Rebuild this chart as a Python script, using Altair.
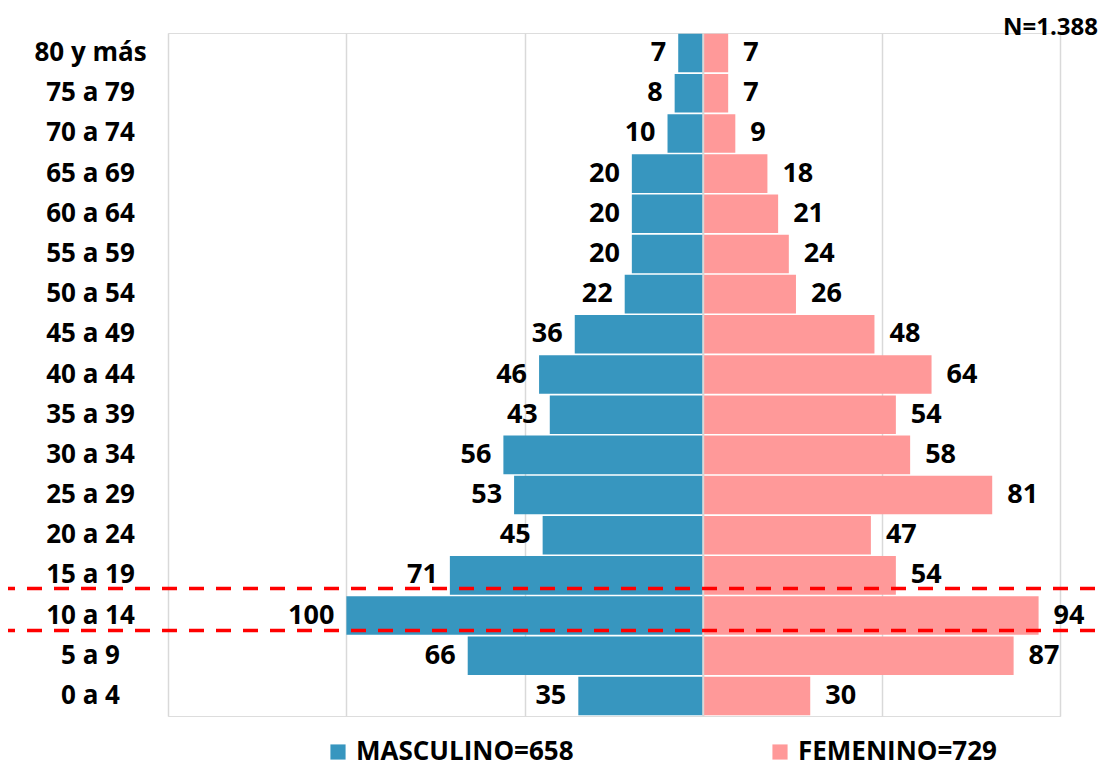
import altair as alt
import pandas as pd

groups = ["80 y más", "75 a 79", "70 a 74", "65 a 69", "60 a 64", "55 a 59", "50 a 54",
          "45 a 49", "40 a 44", "35 a 39", "30 a 34", "25 a 29", "20 a 24", "15 a 19",
          "10 a 14", "5 a 9", "0 a 4"]
male = [7, 8, 10, 20, 20, 20, 22, 36, 46, 43, 56, 53, 45, 71, 100, 66, 35]
female = [7, 7, 9, 18, 21, 24, 26, 48, 64, 54, 58, 81, 47, 54, 94, 87, 30]
series = ["MASCULINO=658", "FEMENINO=729"]
colors = ["#3796bf", "#ff9999"]
highlight = ["10 a 14"]
total_label = ["N=1.388"]

rows = []
for g, m, f in zip(groups, male, female):
    rows.append({"grupo": g, "sexo": series[0], "v": -m, "lab": str(m)})
    rows.append({"grupo": g, "sexo": series[1], "v": f, "lab": str(f)})
df = pd.DataFrame(rows)

FONT = "Open Sans"
W, H = 892, 683

yenc = alt.Y("grupo:N", sort=groups,
             scale=alt.Scale(paddingInner=0.04, paddingOuter=0.02),
             axis=alt.Axis(title=None, domain=False, ticks=False, grid=False,
                           labelFont=FONT, labelFontSize=26, labelFontWeight="bold",
                           labelColor="#000000", labelAlign="center", labelPadding=78))
xenc = alt.X("v:Q", scale=alt.Scale(domain=[-150, 100], nice=False, zero=False),
             axis=alt.Axis(title=None, domain=False, ticks=False, labels=False,
                           grid=True, gridColor="#d9d9d9", gridWidth=1.5,
                           values=[-150, -100, -50, 0, 50, 100]))

base = alt.Chart(df)

bars = base.mark_bar().encode(
    x=xenc, x2=alt.datum(0), y=yenc,
    color=alt.Color("sexo:N", scale=alt.Scale(domain=series, range=colors),
                    legend=alt.Legend(title=None, orient="none", direction="horizontal",
                                      legendX=157, legendY=706, symbolType="square",
                                      symbolSize=230, symbolStrokeWidth=0,
                                      labelFont=FONT, labelFontSize=26,
                                      labelFontWeight="bold", labelColor="#000000",
                                      labelOffset=5, columnPadding=193,
                                      labelLimit=400)),
)

center = alt.Chart(pd.DataFrame({"z": [0]})).mark_rule(color="#d9d9d9", strokeWidth=2).encode(
    x=alt.X("z:Q")
)

txt_m = base.transform_filter(alt.datum.sexo == series[0]).mark_text(
    align="right", baseline="middle", dx=-12, font=FONT, fontSize=27,
    fontWeight="bold", color="#000000").encode(x="v:Q", y=alt.Y("grupo:N", sort=groups), text="lab:N")
txt_f = base.transform_filter(alt.datum.sexo == series[1]).mark_text(
    align="left", baseline="middle", dx=15, font=FONT, fontSize=27,
    fontWeight="bold", color="#000000").encode(x="v:Q", y=alt.Y("grupo:N", sort=groups), text="lab:N")

hl = pd.DataFrame({"grupo": highlight * 2})
rule_top = alt.Chart(hl.iloc[[0]]).mark_rule(color="#ff0000", strokeWidth=3.5,
                                             strokeDash=[15, 12], yOffset=-27).encode(
    y=alt.Y("grupo:N", sort=groups), x=alt.value(-168), x2=alt.value(W + 80))
rule_bot = alt.Chart(hl.iloc[[1]]).mark_rule(color="#ff0000", strokeWidth=3.5,
                                             strokeDash=[15, 12], yOffset=15).encode(
    y=alt.Y("grupo:N", sort=groups), x=alt.value(-168), x2=alt.value(W + 80))

ntext = alt.Chart(pd.DataFrame({"t": total_label})).mark_text(
    align="right", baseline="middle", font=FONT, fontSize=24, fontWeight="bold",
    color="#000000").encode(x=alt.value(930), y=alt.value(-5), text="t:N")

chart = alt.layer(bars, center, txt_m, txt_f, rule_top, rule_bot, ntext).properties(
    width=W, height=H,
    autosize=alt.AutoSizeParams(type="none"),
    padding={"left": 160, "top": 25, "right": 44, "bottom": 52},
).configure_view(stroke=None).configure(background="#ffffff")

chart.save("out.html", embed_options={"renderer": "svg", "actions": False})
